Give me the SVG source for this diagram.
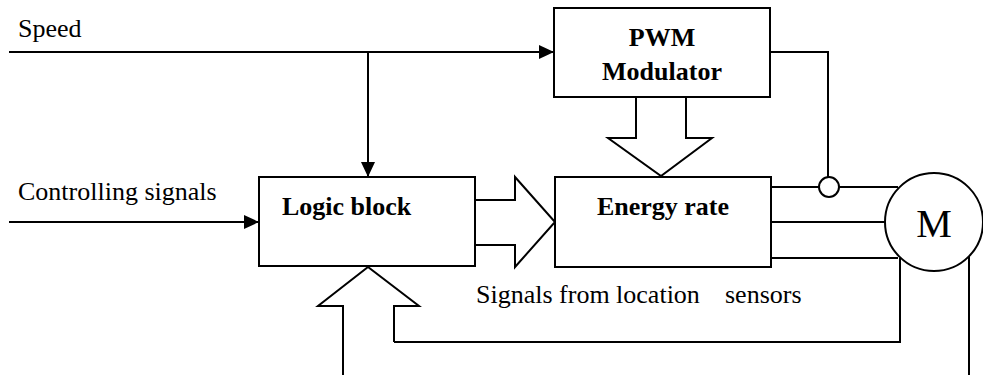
<svg xmlns="http://www.w3.org/2000/svg" width="983" height="375" viewBox="0 0 983 375">
<style>
.box{fill:#fff;stroke:#000;stroke-width:2}
.ln{fill:none;stroke:#000;stroke-width:2}
.hollow{fill:#fff;stroke:#000;stroke-width:2;stroke-linejoin:miter}
text{font-family:'Liberation Serif','DejaVu Serif',serif;font-size:26px;fill:#000}
.b{font-weight:bold}
</style>
<defs>
<marker id="ah" markerWidth="16" markerHeight="14" refX="15" refY="7" orient="auto" markerUnits="userSpaceOnUse">
<path d="M0,0 L15,7 L0,14 Z" fill="#000"/>
</marker>
</defs>
<rect width="983" height="375" fill="#fff"/>
<g id="connectors">
<line class="ln" x1="9" y1="52" x2="554" y2="52" marker-end="url(#ah)"/>
<line class="ln" x1="368" y1="52" x2="368" y2="177" marker-end="url(#ah)"/>
<line class="ln" x1="9" y1="222" x2="259" y2="222" marker-end="url(#ah)"/>
<polyline class="ln" points="770,52 828,52 828,177"/>
<line class="ln" x1="771" y1="187" x2="819" y2="187"/>
<line class="ln" x1="839" y1="187" x2="898" y2="187"/>
<line class="ln" x1="771" y1="222" x2="885" y2="222"/>
<line class="ln" x1="771" y1="258" x2="898" y2="258"/>
<polyline class="ln" points="900,258 900,342 394,342"/>
<line class="ln" x1="969" y1="256" x2="969" y2="375"/>
<circle class="box" cx="829" cy="187" r="10"/>
<path class="hollow" d="M636,97 L636,138 L608,138 L661,176 L712,138 L686,138 L686,97"/>
<path class="hollow" d="M475,200 L515,200 L515,177 L555,222 L515,267 L515,245 L475,245"/>
<path class="hollow" d="M343,375 L343,306 L318,306 L368,267 L419,306 L394,306 L394,342"/>
</g>
<g id="pwm">
<rect class="box" x="554" y="8" width="216" height="89"/>
<text class="b" x="662" y="46" text-anchor="middle">PWM</text>
<text class="b" x="662" y="80" text-anchor="middle">Modulator</text>
</g>
<g id="logic">
<rect class="box" x="259" y="177" width="216" height="89"/>
<text class="b" x="282" y="215">Logic block</text>
</g>
<g id="energy">
<rect class="box" x="555" y="177" width="216" height="90"/>
<text class="b" x="663" y="215" text-anchor="middle">Energy rate</text>
</g>
<g id="motor">
<circle class="box" cx="934" cy="222" r="49"/>
<text x="934" y="237" text-anchor="middle" style="font-size:40px">M</text>
</g>
<g id="labels">
<text x="18" y="37">Speed</text>
<text x="18" y="200">Controlling signals</text>
<text x="476" y="303">Signals from location<tspan x="725">sensors</tspan></text>
</g>
</svg>
